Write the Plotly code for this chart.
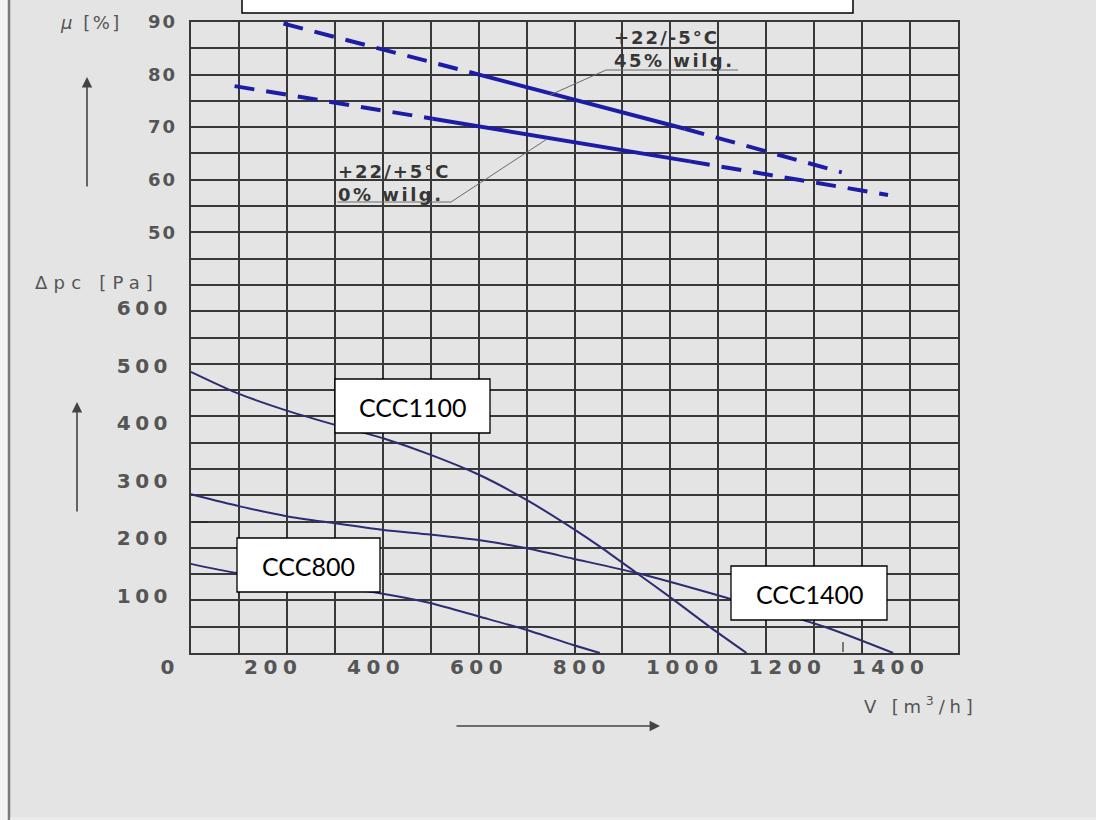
import plotly.graph_objects as go

W, H = 1096, 820

# ---------------- data ----------------
# pressure curves  V [m3/h] -> dpc [Pa]
flow_ccc1100 = [40, 130, 225, 315, 415, 505, 600, 695, 785, 835, 905, 970, 1060, 1120]
dp_ccc1100 = [489, 452, 422, 398, 373, 345, 310, 265, 215, 185, 140, 98, 38, 0]
flow_ccc1400 = [40, 135, 226, 317, 414, 505, 602, 693, 783, 907, 1081, 1270, 1405]
dp_ccc1400 = [276, 255, 238, 226, 214, 206, 196, 182, 164, 139, 96, 46, 0]
flow_ccc800 = [40, 129, 407, 505, 602, 693, 783, 835]
dp_ccc800 = [155, 139, 104, 87, 63, 40, 14, 0]

# efficiency curves  V [m3/h] -> mu [%]  (dashed - solid - dashed)
flow_mu45 = [220, 600, 1000, 1305]
mu45 = [89.7, 80.0, 69.7, 61.4]
flow_mu0 = [125, 510, 1010, 1395]
mu0 = [77.8, 71.6, 63.5, 57.1]

x_tick_vals = [0, 200, 400, 600, 800, 1000, 1200, 1400]
x_tick_text = ["0", "200", "400", "600", "800", "1000", "1200", "1400"]
dp_tick_vals = [100, 200, 300, 400, 500, 600]
dp_tick_text = ["100", "200", "300", "400", "500", "600"]
mu_tick_vals = [50, 60, 70, 80, 90]
mu_tick_text = ["50", "60", "70", "80", "90"]

series_names = ["CCC1100", "CCC1400", "CCC800"]
mu_label_45 = ["+22/-5°C", "45% wilg."]
mu_label_0 = ["+22/+5°C", "0% wilg."]

# ---------------- geometry helpers ----------------
def fx(px):
    return px / W


def fy(py):
    return 1 - py / H


GX0, GX1, GY0, GY1 = 191, 958, 22, 653        # grid box (px)
V0_PX, PX_PER_V = 170.3, 0.5145                # flow axis scale
PX_PER_PA = 0.575                              # pressure axis scale
DX0, DX1 = 150, 990                            # data subplot horizontal extent

x2_range = [(DX0 - V0_PX) / PX_PER_V, (DX1 - V0_PX) / PX_PER_V]
dp_range = [0, (GY1 - GY0) / PX_PER_PA]
mu_range = [-30, 90]

GRID_COL = "#383838"
PAPER = "#e4e4e4"
CURVE = "#2c2c72"
MUCOL = "#1c1ca6"
TXT = "#555555"


def spaced(t, ls):
    return f'<span style="letter-spacing:{ls}px">{t}</span>'


fig = go.Figure()

# invisible trace so the grid subplot exists
fig.add_trace(go.Scatter(x=[0], y=[0], xaxis="x", yaxis="y", mode="markers",
                         marker=dict(opacity=0), hoverinfo="skip", showlegend=False))

for fl, dp in [(flow_ccc1100, dp_ccc1100), (flow_ccc1400, dp_ccc1400), (flow_ccc800, dp_ccc800)]:
    fig.add_trace(go.Scatter(x=fl, y=dp, xaxis="x2", yaxis="y2", mode="lines",
                             line=dict(color=CURVE, width=2, shape="spline", smoothing=0.7),
                             hoverinfo="skip", showlegend=False))

for fl, mu in [(flow_mu45, mu45), (flow_mu0, mu0)]:
    for i in range(3):
        fig.add_trace(go.Scatter(x=fl[i:i + 2], y=mu[i:i + 2], xaxis="x2", yaxis="y3", mode="lines",
                                 line=dict(color=MUCOL, width=4,
                                           dash="solid" if i == 1 else "20px,12px"),
                                 hoverinfo="skip", showlegend=False))

tickfont_x = dict(family="DejaVu Sans", size=20, color=TXT, weight="bold")

fig.update_layout(
    width=W, height=H, autosize=False,
    margin=dict(l=0, r=0, t=0, b=0, pad=0, autoexpand=False),
    title=dict(text=""),
    paper_bgcolor=PAPER, plot_bgcolor="rgba(0,0,0,0)",
    showlegend=False,
    xaxis=dict(domain=[fx(GX0), fx(GX1)], range=[0, 16], tick0=0, dtick=1,
               showgrid=True, gridcolor=GRID_COL, gridwidth=2, showticklabels=False, ticks="",
               zeroline=False, showline=True, mirror=True, linecolor=GRID_COL, linewidth=2,
               anchor="y", automargin=False),
    yaxis=dict(domain=[fy(GY1), fy(GY0)], range=[0, 24], tick0=0, dtick=1,
               showgrid=True, gridcolor=GRID_COL, gridwidth=2, showticklabels=False, ticks="",
               zeroline=False, showline=True, mirror=True, linecolor=GRID_COL, linewidth=2,
               anchor="x", automargin=False),
    xaxis2=dict(domain=[fx(DX0), fx(DX1)], range=x2_range, anchor="y2",
                tickmode="array", tickvals=x_tick_vals,
                ticktext=[spaced(t, 5.5) for t in x_tick_text],
                tickfont=tickfont_x, ticks="", showgrid=False, zeroline=False, showline=False,
                automargin=False),
    yaxis2=dict(domain=[fy(GY1), fy(GY0)], range=dp_range, anchor="free", position=fx(172),
                tickmode="array", tickvals=dp_tick_vals,
                ticktext=[spaced(t, 4.5) for t in dp_tick_text],
                tickfont=tickfont_x, ticks="", showgrid=False, zeroline=False, showline=False,
                automargin=False),
    yaxis3=dict(range=mu_range, overlaying="y2", anchor="free", position=fx(177),
                tickmode="array", tickvals=mu_tick_vals,
                ticktext=[spaced(t, 2) for t in mu_tick_text],
                tickfont=dict(family="DejaVu Sans", size=18, color=TXT, weight="bold"),
                ticks="", showgrid=False, zeroline=False, showline=False, automargin=False),
)

shapes = []
# window border on the left and at the bottom
shapes.append(dict(type="rect", xref="paper", yref="paper", x0=0, x1=fx(8), y0=0, y1=1,
                   fillcolor="#f4f4f4", line=dict(width=0)))
shapes.append(dict(type="line", xref="paper", yref="paper", x0=fx(9), x1=fx(9), y0=0, y1=1,
                   line=dict(color="#7a7a7a", width=2.5)))
shapes.append(dict(type="line", xref="paper", yref="paper", x0=fx(10), x1=1, y0=fy(818.5), y1=fy(818.5),
                   line=dict(color="#f0f0f0", width=1.5)))
# top white box
shapes.append(dict(type="rect", xref="paper", yref="paper", x0=fx(242), x1=fx(853), y0=fy(13), y1=fy(-3),
                   fillcolor="white", line=dict(color="black", width=1.5)))
# small scan artefacts in the grid
shapes.append(dict(type="line", xref="paper", yref="paper", x0=fx(192), x1=fx(208), y0=fy(522), y1=fy(522),
                   line=dict(color="#2a2a2a", width=2)))
shapes.append(dict(type="line", xref="paper", yref="paper", x0=fx(843), x1=fx(843), y0=fy(652), y1=fy(642),
                   line=dict(color="#555555", width=1.5)))
# label boxes
boxes = {"CCC1100": (335, 379, 490, 433), "CCC1400": (731, 566, 887, 620), "CCC800": (237, 538, 380, 592)}
for name in series_names:
    x0, y0, x1, y1 = boxes[name]
    shapes.append(dict(type="rect", xref="paper", yref="paper", x0=fx(x0), x1=fx(x1), y0=fy(y1), y1=fy(y0),
                       fillcolor="white", line=dict(color="black", width=1.3)))
# leader lines of the efficiency labels
for pts in [[(550, 95), (606, 70), (738, 70)], [(547, 139), (451, 202), (337, 202)]]:
    path = "M " + " L ".join(f"{fx(px)},{fy(py)}" for px, py in pts)
    shapes.append(dict(type="path", xref="paper", yref="paper", path=path,
                       line=dict(color="#6a6a6a", width=1)))
fig.update_layout(shapes=shapes)

ann = []
for name in series_names:
    x0, y0, x1, y1 = boxes[name]
    ann.append(dict(xref="paper", yref="paper", x=fx((x0 + x1) / 2), y=fy((y0 + y1) / 2 + 1),
                    text=name, showarrow=False, xanchor="center", yanchor="middle",
                    font=dict(family="Lato", size=25, color="black")))

lab_font = dict(family="DejaVu Sans", size=18, color="#363636", weight="bold")
for (t1, t2), (px, py1, py2) in [(mu_label_45, (612, 37, 61)), (mu_label_0, (336, 172, 194))]:
    ann.append(dict(xref="paper", yref="paper", x=fx(px), y=fy(py1), text=spaced(t1, 2),
                    showarrow=False, xanchor="left", yanchor="middle", font=lab_font))
    ann.append(dict(xref="paper", yref="paper", x=fx(px), y=fy(py2), text=spaced(t2, 2.5),
                    showarrow=False, xanchor="left", yanchor="middle", font=lab_font))

title_font = dict(family="DejaVu Sans", size=18, color=TXT)
ann.append(dict(xref="paper", yref="paper", x=fx(58), y=fy(22), text=spaced("<i>μ</i> [%]", 2.5),
                showarrow=False, xanchor="left", yanchor="middle", font=title_font))
ann.append(dict(xref="paper", yref="paper", x=fx(33), y=fy(282), text=spaced("Δpc [Pa]", 6.2),
                showarrow=False, xanchor="left", yanchor="middle", font=title_font))
ann.append(dict(xref="paper", yref="paper", x=fx(862), y=fy(705), text=spaced("V [m<sup>3</sup>/h]", 4.8),
                showarrow=False, xanchor="left", yanchor="middle", font=title_font))

# direction arrows
for tip, tail in [((87, 77), (87, 188)), ((77, 402), (77, 513)), ((660, 726), (455, 726))]:
    ann.append(dict(xref="paper", yref="paper", x=fx(tip[0]), y=fy(tip[1]), text="",
                    showarrow=True, ax=tail[0] - tip[0], ay=tail[1] - tip[1],
                    arrowhead=2, arrowsize=1.3, arrowwidth=1.6, arrowcolor="#444444", standoff=0))
fig.update_layout(annotations=ann)

fig.write_html("out.html", config={"displayModeBar": False, "staticPlot": True},
               post_script="document.body.style.margin='0';document.body.style.padding='0';"
                           "document.body.style.overflow='hidden';")
